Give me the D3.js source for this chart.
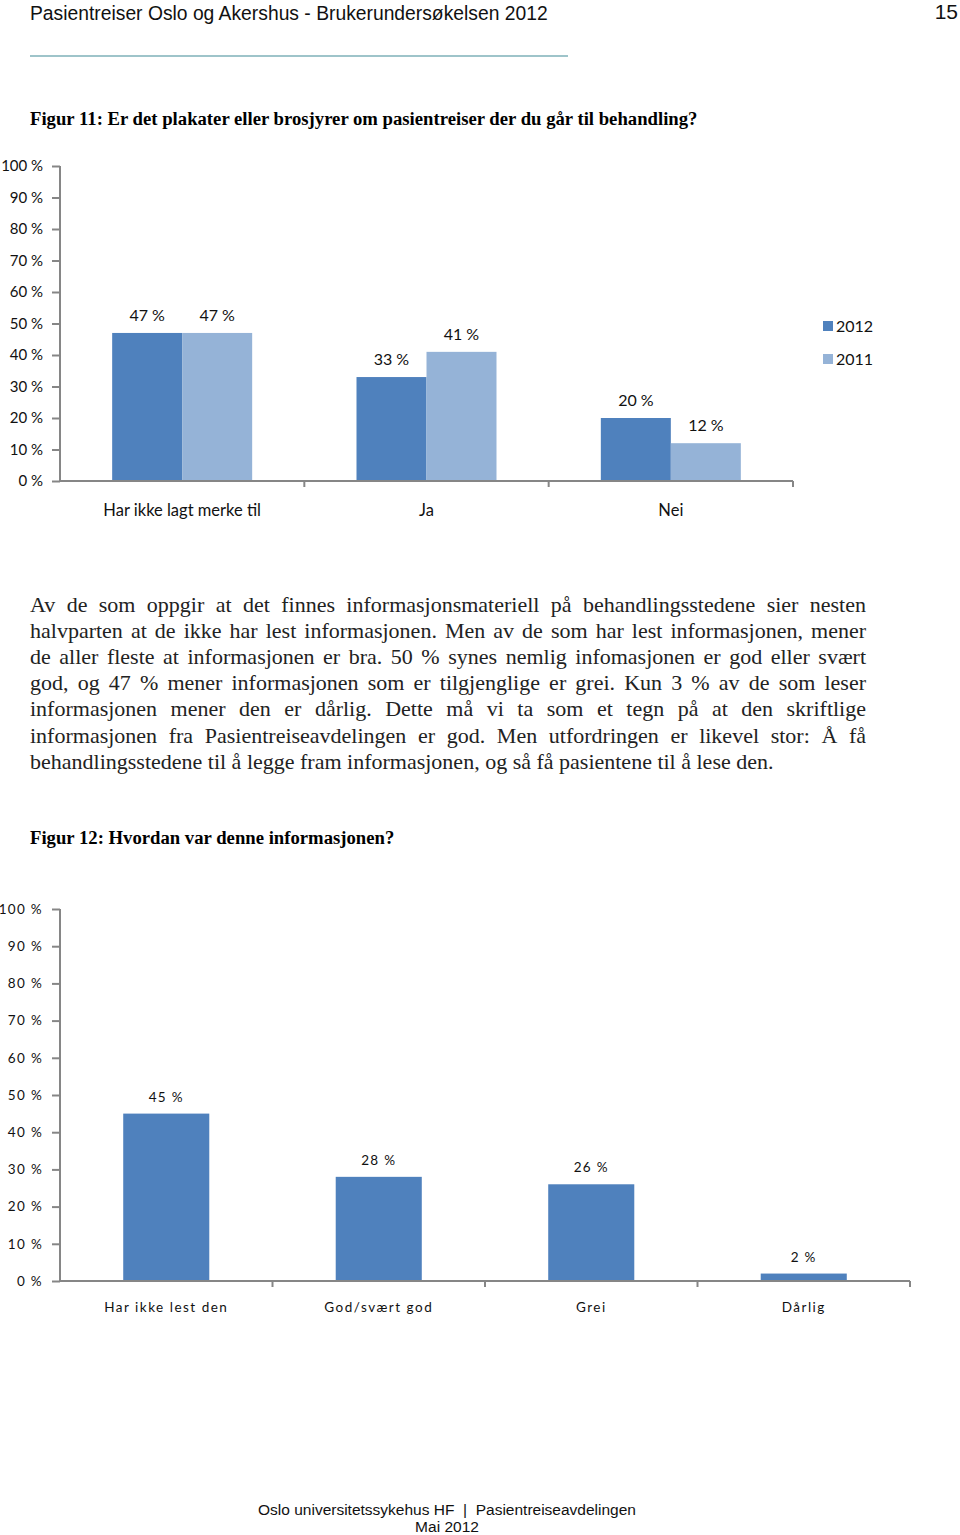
<!DOCTYPE html>
<html><head><meta charset="utf-8">
<script src="https://cdn.jsdelivr.net/npm/d3@7"></script>
<style>body{margin:0;background:#fff}svg{display:block}</style>
</head><body>
<svg id="page" width="960" height="1535"></svg>
<script>
// ---- Data ----
const categories1 = ["Har ikke lagt merke til", "Ja", "Nei"];
const series1Names = ["2012", "2011"];
const values2012 = [47, 33, 20];
const values2011 = [47, 41, 12];
const yTickValues = [0, 10, 20, 30, 40, 50, 60, 70, 80, 90, 100];
const categories2 = ["Har ikke lest den", "God/svært god", "Grei", "Dårlig"];
const values2 = [45, 28, 26, 2];
const headerText = "Pasientreiser Oslo og Akershus - Brukerundersøkelsen 2012";
const pageNumber = "15";
const title1 = "Figur 11: Er det plakater eller brosjyrer om pasientreiser der du går til behandling?";
const title2 = "Figur 12: Hvordan var denne informasjonen?";
const paragraphLines = [
  "Av de som oppgir at det finnes informasjonsmateriell på behandlingsstedene sier nesten",
  "halvparten at de ikke har lest informasjonen. Men av de som har lest informasjonen, mener",
  "de aller fleste at informasjonen er bra. 50 % synes nemlig infomasjonen er god eller svært",
  "god, og 47 % mener informasjonen som er tilgjenglige er grei. Kun 3 % av de som leser",
  "informasjonen mener den er dårlig. Dette må vi ta som et tegn på at den skriftlige",
  "informasjonen fra Pasientreiseavdelingen er god. Men utfordringen er likevel stor: Å få",
  "behandlingsstedene til å legge fram informasjonen, og så få pasientene til å lese den."
];
const footerLines = ["Oslo universitetssykehus HF  |  Pasientreiseavdelingen", "Mai 2012"];

const svg = d3.select("#page");
const AXIS = "#868686";
const C2012 = "#4f81bd", C2011 = "#95b3d7";
const CHART_FONT = "Lato, 'Open Sans', sans-serif";

// ---- Header ----
svg.append("text").attr("x", 30).attr("y", 20).attr("font-family", "'Liberation Sans', Arial, sans-serif")
  .attr("font-size", 19.3).attr("fill", "#111").text(headerText);
svg.append("text").attr("x", 958).attr("y", 19).attr("text-anchor", "end")
  .attr("font-family", "'Liberation Sans', Arial, sans-serif").attr("font-size", 21).attr("fill", "#111").text(pageNumber);
svg.append("line").attr("x1", 30).attr("x2", 568).attr("y1", 56).attr("y2", 56)
  .attr("stroke", "#3f8a96").attr("stroke-width", 1.2);

svg.append("text").attr("x", 30).attr("y", 125).attr("font-family", "'Liberation Serif', 'Times New Roman', serif")
  .attr("font-size", 18.7).attr("font-weight", "bold").attr("fill", "#000").text(title1);

// ---- Chart 1 ----
{
  const left = 60, right = 793, top = 166, bottom = 481;
  const y = d3.scaleLinear().domain([0, 100]).range([bottom, top]);
  const x = d3.scaleBand().domain(categories1).range([left, right]);
  const xs = d3.scaleBand().domain(series1Names).range([0, 140]);
  const g = svg.append("g").attr("font-family", CHART_FONT);

  // y axis
  const ya = g.append("g").attr("transform", `translate(${left},0)`)
    .call(d3.axisLeft(y).tickValues(yTickValues).tickSize(8).tickPadding(9).tickFormat(d => d + "\u2005%"));
  ya.select(".domain").attr("stroke", AXIS).attr("stroke-width", 2).attr("d", `M0,${top}V${bottom}`);
  ya.selectAll(".tick line").attr("stroke", AXIS).attr("stroke-width", 2);
  ya.selectAll(".tick text").attr("font-family", CHART_FONT).attr("font-size", 15).attr("fill", "#111");

  // bars
  const data = categories1.map((c, i) => ({ c, vals: [values2012[i], values2011[i]] }));
  const grp = g.selectAll(".grp").data(data).join("g")
    .attr("transform", d => `translate(${x(d.c) + x.bandwidth() / 2 - 70},0)`);
  grp.selectAll("rect").data(d => d.vals.map((v, j) => ({ v, s: series1Names[j] }))).join("rect")
    .attr("x", d => xs(d.s)).attr("width", xs.bandwidth())
    .attr("y", d => y(d.v)).attr("height", d => bottom - y(d.v))
    .attr("fill", d => d.s === "2012" ? C2012 : C2011);
  grp.selectAll("text.val").data(d => d.vals.map((v, j) => ({ v, s: series1Names[j] }))).join("text")
    .attr("class", "val").attr("x", d => xs(d.s) + xs.bandwidth() / 2).attr("y", d => y(d.v) - 12)
    .attr("text-anchor", "middle").attr("font-size", 16).attr("fill", "#111").text(d => d.v + "\u2005%");

  // x axis
  const xa = g.append("g").attr("transform", `translate(0,${bottom})`)
    .call(d3.axisBottom(x).tickSize(0).tickPadding(23));
  xa.select(".domain").attr("stroke", AXIS).attr("stroke-width", 2).attr("d", `M${left},0H${right}`);
  xa.selectAll(".tick text").attr("font-family", CHART_FONT).attr("font-size", 16.5).attr("fill", "#111");
  const bounds = categories1.map(c => x(c) + x.bandwidth());
  xa.selectAll(".sep").data(bounds).join("line").attr("class", "sep")
    .attr("x1", d => d).attr("x2", d => d).attr("y1", 0).attr("y2", 6).attr("stroke", AXIS).attr("stroke-width", 2);

  // legend
  const lg = g.append("g").attr("transform", "translate(823,321)");
  series1Names.forEach((s, i) => {
    lg.append("rect").attr("x", 0).attr("y", i * 33).attr("width", 10).attr("height", 10)
      .attr("fill", s === "2012" ? C2012 : C2011);
    lg.append("text").attr("x", 13).attr("y", i * 33 + 11).attr("font-size", 16).attr("fill", "#111").text(s);
  });
}

// ---- Paragraph (justified) ----
{
  const pg = svg.append("g").attr("font-family", "'Liberation Serif', 'Times New Roman', serif")
    .attr("font-size", 22).attr("fill", "#222");
  const width = 836;
  paragraphLines.forEach((line, i) => {
    const t = pg.append("text").attr("x", 30).attr("y", 612 + i * 26.1).attr("xml:space", "preserve").text(line);
    if (i < paragraphLines.length - 1) {
      const w = t.node().getComputedTextLength();
      const spaces = (line.match(/ /g) || []).length;
      t.attr("word-spacing", (width - w) / spaces);
    }
  });
}

svg.append("text").attr("x", 30).attr("y", 844).attr("font-family", "'Liberation Serif', 'Times New Roman', serif")
  .attr("font-size", 18.7).attr("font-weight", "bold").attr("fill", "#000").text(title2);

// ---- Chart 2 ----
{
  const left = 60, right = 910, top = 909, bottom = 1281;
  const y = d3.scaleLinear().domain([0, 100]).range([bottom, top]);
  const x = d3.scaleBand().domain(categories2).range([left, right]).paddingInner(0).paddingOuter(0);
  const bw = x.bandwidth() * 0.405;
  const g = svg.append("g").attr("font-family", CHART_FONT);

  const ya = g.append("g").attr("transform", `translate(${left},0)`)
    .call(d3.axisLeft(y).tickValues(yTickValues).tickSize(8).tickPadding(9).tickFormat(d => d + " %"));
  ya.select(".domain").attr("stroke", AXIS).attr("stroke-width", 2).attr("d", `M0,${top}V${bottom}`);
  ya.selectAll(".tick line").attr("stroke", AXIS).attr("stroke-width", 2);
  ya.selectAll(".tick text").attr("font-family", CHART_FONT).attr("font-size", 13.5)
    .attr("letter-spacing", 1.3).attr("fill", "#111");

  g.selectAll("rect.bar").data(categories2.map((c, i) => ({ c, v: values2[i] }))).join("rect")
    .attr("class", "bar").attr("x", d => x(d.c) + x.bandwidth() / 2 - bw / 2).attr("width", bw)
    .attr("y", d => y(d.v)).attr("height", d => bottom - y(d.v)).attr("fill", C2012);
  g.selectAll("text.val").data(categories2.map((c, i) => ({ c, v: values2[i] }))).join("text")
    .attr("class", "val").attr("x", d => x(d.c) + x.bandwidth() / 2).attr("y", d => y(d.v) - 12)
    .attr("text-anchor", "middle").attr("font-size", 13.5).attr("letter-spacing", 1.3).attr("fill", "#111")
    .text(d => d.v + " %");

  const xa = g.append("g").attr("transform", `translate(0,${bottom})`)
    .call(d3.axisBottom(x).tickSize(0).tickPadding(21));
  xa.select(".domain").attr("stroke", AXIS).attr("stroke-width", 2).attr("d", `M${left},0H${right}`);
  xa.selectAll(".tick text").attr("font-family", CHART_FONT).attr("font-size", 13.5)
    .attr("letter-spacing", 1.5).attr("fill", "#111");
  const bounds = categories2.map(c => x(c) + x.bandwidth());
  xa.selectAll(".sep").data(bounds).join("line").attr("class", "sep")
    .attr("x1", d => d).attr("x2", d => d).attr("y1", 0).attr("y2", 6).attr("stroke", AXIS).attr("stroke-width", 2);
}

// ---- Footer ----
footerLines.forEach((l, i) => {
  svg.append("text").attr("x", 447).attr("y", 1515 + i * 17).attr("text-anchor", "middle")
    .attr("font-family", "'Liberation Sans', Arial, sans-serif").attr("font-size", 15.5).attr("fill", "#111")
    .attr("xml:space", "preserve").text(l);
});
</script>
</body></html>
